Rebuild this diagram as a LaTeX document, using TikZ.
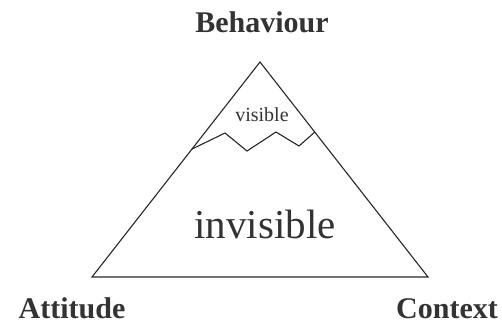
\documentclass[tikz,border=0pt]{standalone}
\usepackage{fontspec}
\setmainfont{Liberation Serif}
\usepackage{tikz}
\usetikzlibrary{calc}

\begin{document}
\begin{tikzpicture}[
  x=1pt, y=-1pt,
  every node/.style={inner sep=0pt, text=black!80},
  corner/.style={font=\fontsize{30}{36}\selectfont\bfseries, anchor=base},
  zone/.style={anchor=base},
  edge/.style={draw=black!85, line width=1.1pt, line join=miter},
  ridge/.style={draw=black!85, line width=1.1pt, line join=miter}
]
\useasboundingbox (0,0) rectangle (502,324);

\coordinate (top)   at (260,62);
\coordinate (left)  at (92,277);
\coordinate (right) at (428,277);

\node[corner] (beh) at (262,32)  {Behaviour};
\node[corner] (att) at (72,318)  {Attitude};
\node[corner] (ctx) at (447,318) {Context};

\draw[edge] (top) -- (left) -- (right) -- cycle;

% waterline
\coordinate (wl) at ($(top)!0.405!(left)$);
\coordinate (wr) at ($(top)!0.326!(right)$);
\draw[ridge] (wl) -- (225,133) -- (247,151) -- (276,132) -- (299,146) -- (wr);

\node[zone, font=\fontsize{20}{24}\selectfont] (vis)   at (262,121) {visible};
\node[zone, font=\fontsize{41}{48}\selectfont] (invis) at (265,238) {invisible};

\end{tikzpicture}
\end{document}
